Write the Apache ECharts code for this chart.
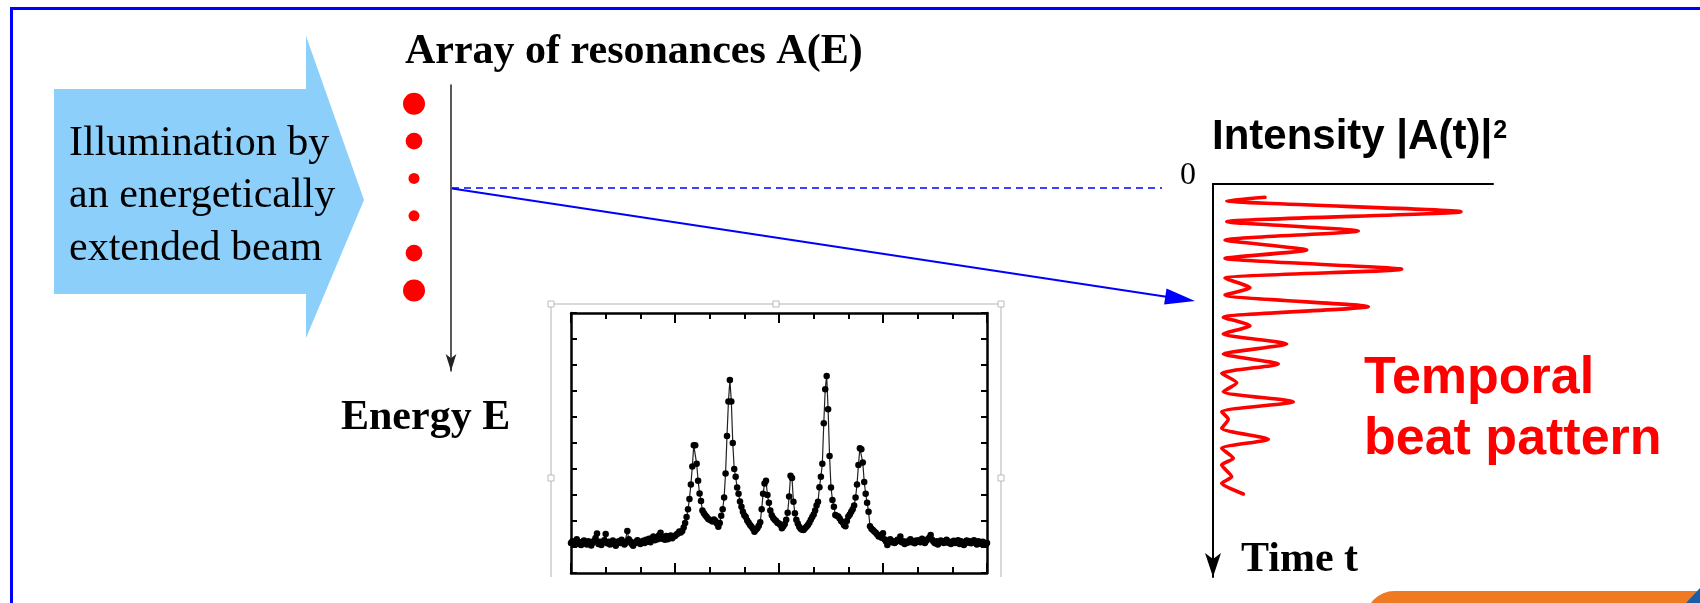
<!DOCTYPE html>
<html>
<head>
<meta charset="utf-8">
<script src="https://cdn.jsdelivr.net/npm/echarts@6/dist/echarts.min.js"></script>
<style>html,body{margin:0;padding:0;background:#fff;}#c{width:1700px;height:603px;}</style>
</head>
<body>
<div id="c"></div>
<script>
// ---------- data ----------
// inset spectrum: counts per channel, channel width in energy units
const spectrumStep = 1 / 24;
const spectrumCounts = [
  1.15,1.22,1.10,1.18,1.30,1.12,1.18,1.08,1.20,1.25,1.14,1.10,1.22,1.18,1.06,1.16,1.24,1.35,1.52,1.12,1.20,1.08,1.18,1.26,
  1.50,1.14,1.20,1.10,1.16,1.25,1.12,1.05,1.18,1.22,1.15,1.28,1.20,1.10,1.16,1.62,1.30,1.22,1.12,1.05,1.14,1.20,1.26,1.16,
  1.12,1.20,1.24,1.15,1.28,1.20,1.32,1.18,1.34,1.40,1.26,1.36,1.30,1.45,1.55,1.32,1.38,1.28,1.42,1.30,1.36,1.44,1.34,1.40,
  1.42,1.48,1.52,1.60,1.56,1.62,1.75,1.92,2.15,2.45,2.85,3.40,4.10,4.91,4.91,4.20,3.55,3.06,2.77,2.40,2.30,2.22,2.15,2.08,
  2.05,2.02,1.98,2.06,2.00,1.90,1.78,1.92,2.20,2.45,2.90,3.83,5.27,6.60,7.42,6.60,5.00,4.00,3.70,3.29,3.05,2.75,2.55,2.36,
  2.22,2.15,2.02,1.93,1.85,1.78,1.70,1.59,1.66,1.72,1.82,1.95,2.45,3.05,3.44,3.55,3.00,2.70,2.40,2.22,2.12,2.05,2.00,1.92,
  1.90,1.85,1.72,1.80,1.88,2.05,2.32,2.94,3.74,3.65,2.74,2.30,2.05,1.90,1.78,1.70,1.66,1.65,1.72,1.78,1.85,1.93,2.05,2.15,
  2.25,2.40,2.60,2.74,3.30,3.70,4.20,5.76,7.07,7.58,6.30,4.50,3.29,2.81,2.55,2.23,2.20,2.17,2.10,2.00,1.95,1.85,1.80,2.00,
  2.17,2.25,2.36,2.45,2.60,2.90,3.40,4.15,4.80,4.76,4.25,3.50,3.05,2.70,2.36,1.80,1.70,1.65,1.60,1.55,1.48,1.40,1.45,1.36,
  1.53,1.30,1.22,1.08,1.25,1.30,1.18,1.22,1.15,1.20,1.28,1.24,1.40,1.18,1.22,1.12,1.20,1.16,1.24,1.30,1.18,1.22,1.14,1.25,
  1.20,1.26,1.18,1.32,1.22,1.15,1.24,1.30,1.36,1.46,1.28,1.20,1.14,1.22,1.10,1.18,1.25,1.20,1.15,1.22,1.28,1.16,1.20,1.12,
  1.18,1.24,1.15,1.20,1.26,1.12,1.22,1.18,1.08,1.20,1.25,1.16,1.22,1.14,1.20,1.26,1.15,1.10,1.22,1.18,1.12,1.20,1.16,1.10,
  1.15
];

// array of resonances on the energy axis
const resonanceEnergies = [0.5, 1.5, 2.5, 3.5, 4.5, 5.5];
const resonanceStrengths = [1, 0.76, 0.5, 0.5, 0.76, 1];

// temporal beat pattern: turning points of the intensity trace
const beatTime = [1.33,1.67,2.77,3.77,4.7,5.6,6.6,7.43,8.53,9.43,10.37,11.1,12.27,13.33,14.17,15.0,16.0,17.0,18.0,18.93,19.87,20.77,21.77,22.77,23.53,24.43,25.53,26.43,27.43,28.1,29.27,29.93,31.0];
const beatIntensity = [5.2,1.37,24.8,1.37,14.53,1.2,9.37,1.2,18.87,1.2,3.7,1.2,15.53,1.03,3.7,1.03,7.37,1.03,6.53,0.87,2.37,1.03,8.03,0.87,1.53,0.87,5.53,0.87,2.03,0.87,1.87,0.87,3.03];

// texts
const arrowLines = ['Illumination by', 'an energetically', 'extended beam'];
const titleText = 'Array of resonances A(E)';
const energyLabel = 'Energy E';
const timeLabel = 'Time t';
const intensityLabel = 'Intensity |A(t)|';
const intensitySup = '2';
const zeroLabel = '0';
const beatLines = ['Temporal', 'beat pattern'];

// ---------- chart ----------
const SERIF = '"Liberation Serif","Times New Roman",serif';
const SANS = '"Liberation Sans",Arial,sans-serif';

const spectrumData = spectrumCounts.map((v, i) => [i * spectrumStep, v]);
const beatData = beatTime.map((t, i) => [beatIntensity[i], t]);
const resonanceData = resonanceEnergies.map((e, i) => ({ value: [0, e], symbolSize: 22 * resonanceStrengths[i] }));

function txt(x, y, text, font, fill) {
  return { type: 'text', x: x, y: y, z: 100,
    style: { text: text, font: font, fill: fill || '#000', align: 'left', verticalAlign: 'middle', textAlign: 'left', textVerticalAlign: 'middle' } };
}

const mctx = document.createElement('canvas').getContext('2d');
mctx.font = 'bold 42px ' + SANS;
const intensityW = mctx.measureText(intensityLabel).width;

const boxAxis = {
  type: 'value', min: 0, max: 12, interval: 3, gridIndex: 0,
  axisLine: { show: true, onZero: false, lineStyle: { color: '#000', width: 2.5 } },
  axisTick: { show: true, inside: true, length: 10, lineStyle: { color: '#000', width: 2 } },
  minorTick: { show: true, splitNumber: 3, length: 6, lineStyle: { color: '#000', width: 2 } },
  axisLabel: { show: false }, splitLine: { show: false }, minorSplitLine: { show: false }
};
const boxYAxis = {
  type: 'value', min: 0, max: 10, interval: 1, gridIndex: 0,
  axisLine: { show: true, onZero: false, lineStyle: { color: '#000', width: 2.5 } },
  axisTick: { show: true, inside: true, length: 6, lineStyle: { color: '#000', width: 2 } },
  axisLabel: { show: false }, splitLine: { show: false }
};

const option = {
  animation: false,
  backgroundColor: '#fff',
  grid: [
    { left: 571, top: 313, width: 416, height: 260 },
    { left: 414, top: 85, width: 37, height: 286 },
    { left: 1213, top: 184, width: 280, height: 393 }
  ],
  xAxis: [
    Object.assign({}, boxAxis, { position: 'bottom' }),
    Object.assign({}, boxAxis, { position: 'top' }),
    { type: 'value', gridIndex: 1, min: 0, max: 1, show: false },
    { type: 'value', gridIndex: 2, min: 0, max: 28, position: 'top',
      axisLine: { show: true, onZero: false, lineStyle: { color: '#000', width: 2 } },
      axisTick: { show: false }, axisLabel: { show: false }, splitLine: { show: false } }
  ],
  yAxis: [
    Object.assign({}, boxYAxis, { position: 'left' }),
    Object.assign({}, boxYAxis, { position: 'right' }),
    { type: 'value', gridIndex: 1, min: 0, max: 7.653, inverse: true, position: 'right',
      axisLine: { show: true, onZero: false, symbol: ['arrow', 'none'], symbolSize: [8, 17], lineStyle: { color: '#222', width: 1.5 } },
      axisTick: { show: false }, axisLabel: { show: false }, splitLine: { show: false } },
    { type: 'value', gridIndex: 2, min: 0, max: 39.3, inverse: true, position: 'left',
      axisLine: { show: true, onZero: false, symbol: ['arrow', 'none'], symbolSize: [12, 24], lineStyle: { color: '#000', width: 2 } },
      axisTick: { show: false }, axisLabel: { show: false }, splitLine: { show: false } }
  ],
  series: [
    { type: 'line', xAxisIndex: 0, yAxisIndex: 0, data: spectrumData,
      symbol: 'circle', symbolSize: 6.5, showSymbol: true,
      itemStyle: { color: '#000', opacity: 1 }, lineStyle: { color: '#222', width: 1.2 } },
    { type: 'scatter', xAxisIndex: 2, yAxisIndex: 2, data: resonanceData,
      itemStyle: { color: '#FF0000', opacity: 1 } },
    { type: 'line', xAxisIndex: 3, yAxisIndex: 3, data: beatData, clip: false,
      showSymbol: false, symbol: 'none', smooth: 0.2,
      lineStyle: { color: '#FF0000', width: 3.6, cap: 'round', join: 'round' } }
  ],
  graphic: { elements: [
    // outer frame
    { type: 'rect', z: 50, shape: { x: 11.5, y: 8.5, width: 2000, height: 1000 }, style: { fill: null, stroke: '#0000FF', lineWidth: 3 } },
    // big illumination arrow
    { type: 'polygon', z: 10, shape: { points: [[54,89],[306,89],[306,36],[364,200],[306,338],[306,294],[54,294]] }, style: { fill: '#8BCFFA' } },
    txt(69, 144, arrowLines[0], '42px ' + SERIF),
    txt(69, 196, arrowLines[1], '42px ' + SERIF),
    txt(69, 248.5, arrowLines[2], '42px ' + SERIF),
    txt(405, 52.5, titleText, 'bold 42px ' + SERIF),
    txt(341, 418.5, energyLabel, 'bold 42px ' + SERIF),
    txt(1241, 560, timeLabel, 'bold 42px ' + SERIF),
    txt(1212, 137.4, intensityLabel, 'bold 42px ' + SANS),
    txt(1212 + intensityW + 1, 131.5, intensitySup, 'bold 25px ' + SANS),
    txt(1180, 175.2, zeroLabel, '32px ' + SERIF),
    txt(1364, 379, beatLines[0], 'bold 52px ' + SANS, '#FF0000'),
    txt(1364, 440, beatLines[1], 'bold 52px ' + SANS, '#FF0000'),
    // mapping lines
    { type: 'line', z: 20, shape: { x1: 452, y1: 188, x2: 1162, y2: 188 }, style: { stroke: '#0000FF', lineWidth: 1.3, lineDash: [7, 5] } },
    { type: 'line', z: 20, shape: { x1: 452, y1: 188.5, x2: 1168, y2: 297 }, style: { stroke: '#0000FF', lineWidth: 2 } },
    { type: 'polygon', z: 20, shape: { points: [[1195,301],[1166.5,288.6],[1164.1,304.4]] }, style: { fill: '#0000FF' } },
    // inset picture frame
    { type: 'line', z: 1, shape: { x1: 551, y1: 304, x2: 1001, y2: 304 }, style: { stroke: '#CCCCCC', lineWidth: 1.5 } },
    { type: 'line', z: 1, shape: { x1: 551, y1: 304, x2: 551, y2: 577 }, style: { stroke: '#CCCCCC', lineWidth: 1.5 } },
    { type: 'line', z: 1, shape: { x1: 1001, y1: 304, x2: 1001, y2: 577 }, style: { stroke: '#CCCCCC', lineWidth: 1.5 } },
    { type: 'rect', z: 2, shape: { x: 548, y: 301, width: 6, height: 6 }, style: { fill: '#fff', stroke: '#BBBBBB', lineWidth: 1 } },
    { type: 'rect', z: 2, shape: { x: 773, y: 301, width: 6, height: 6 }, style: { fill: '#fff', stroke: '#BBBBBB', lineWidth: 1 } },
    { type: 'rect', z: 2, shape: { x: 998, y: 301, width: 6, height: 6 }, style: { fill: '#fff', stroke: '#BBBBBB', lineWidth: 1 } },
    { type: 'rect', z: 2, shape: { x: 548, y: 475, width: 6, height: 6 }, style: { fill: '#fff', stroke: '#BBBBBB', lineWidth: 1 } },
    { type: 'rect', z: 2, shape: { x: 998, y: 475, width: 6, height: 6 }, style: { fill: '#fff', stroke: '#BBBBBB', lineWidth: 1 } },
    // bottom-right decoration
    { type: 'rect', z: 60, shape: { x: 1366, y: 591, width: 600, height: 100, r: [28, 0, 0, 0] }, style: { fill: '#F07A22' } },
    { type: 'polygon', z: 61, shape: { points: [[1686,603],[1700,588],[1700,603]] }, style: { fill: '#1A5EA8' } }
  ] }
};

const chart = echarts.init(document.getElementById('c'), null, { renderer: 'canvas', width: 1700, height: 603 });
chart.setOption(option);
</script>
</body>
</html>
